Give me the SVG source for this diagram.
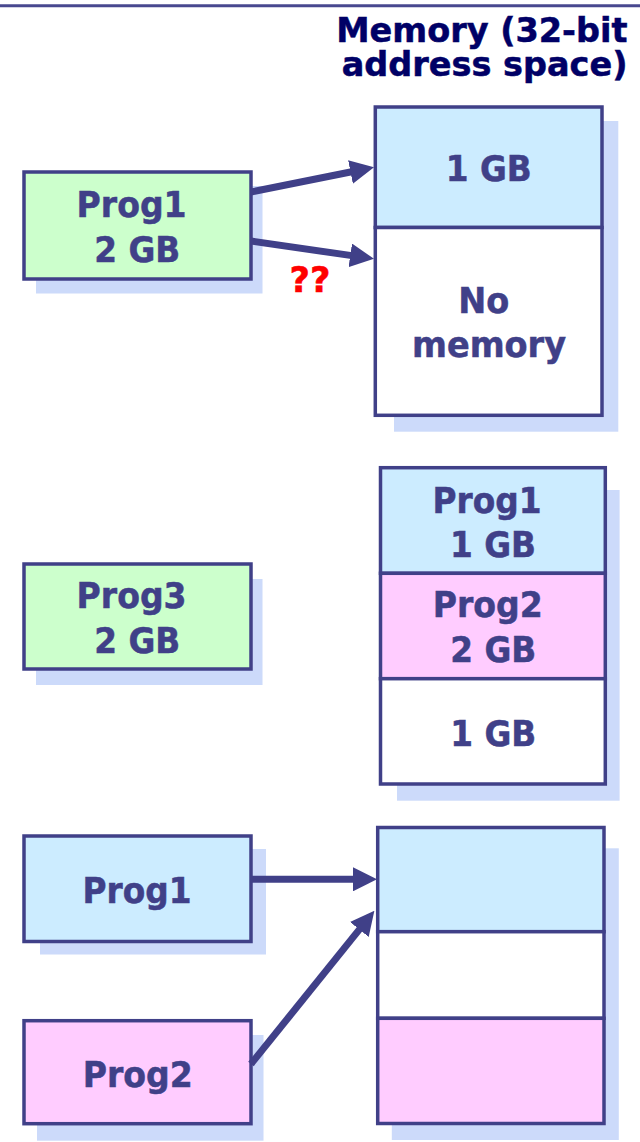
<svg xmlns="http://www.w3.org/2000/svg" width="640" height="1142" viewBox="0 0 640 1142">
<style>
.box{stroke:#404088;stroke-width:3.5}
.sh{fill:#CCDAFA}
.blue{fill:#CCECFF}
.green{fill:#CCFFCC}
.pink{fill:#FFCCFF}
.white{fill:#FFFFFF}
.t{font-family:"DejaVu Sans","Verdana",sans-serif;font-weight:bold;font-size:35px;fill:#404088;stroke:#404088;stroke-width:0.5;text-anchor:middle}
.title{font-family:"DejaVu Sans","Verdana",sans-serif;font-weight:bold;font-size:33.5px;fill:#000066;stroke:#000066;stroke-width:0.5;text-anchor:end}
.q{font-family:"DejaVu Sans","Verdana",sans-serif;font-weight:bold;font-size:36px;fill:#FF0000;stroke:#FF0000;stroke-width:0.5;text-anchor:middle}
.conn{stroke:#404088;stroke-width:7;fill:none;marker-end:url(#ah)}
</style>
<defs>
<marker id="ah" viewBox="0 0 24 24" refX="14" refY="12" markerWidth="24" markerHeight="24" markerUnits="userSpaceOnUse" orient="auto">
<path d="M0,0 L24,12 L0,24 Z" fill="#404088"/>
</marker>
</defs>
<line x1="0" y1="5.7" x2="640" y2="5.7" stroke="#48488F" stroke-width="3"/>
<g id="title">
<text class="title" x="627.5" y="42">Memory (32-bit</text>
<text class="title" x="627.5" y="75.5">address space)</text>
</g>
<!-- Section 1 -->
<g id="s1-prog1">
<rect class="sh" x="36" y="186" width="226.5" height="107.5"/>
<rect class="box green" x="24" y="172" width="227" height="107"/>
<text class="t" x="131.6" y="217.3" textLength="110" lengthAdjust="spacingAndGlyphs">Prog1</text>
<text class="t" x="137.3" y="261.7" textLength="86" lengthAdjust="spacingAndGlyphs">2 GB</text>
</g>
<g id="s1-memory">
<rect class="sh" x="394" y="121" width="224.3" height="310.7"/>
<rect class="box blue" x="375.3" y="107" width="226.7" height="120.5"/>
<rect class="box white" x="375.3" y="227.5" width="226.7" height="187.8"/>
<text class="t" x="488.8" y="181" textLength="86" lengthAdjust="spacingAndGlyphs">1 GB</text>
<text class="t" x="483.7" y="313.3" textLength="51" lengthAdjust="spacingAndGlyphs">No</text>
<text class="t" x="489" y="356.7" textLength="154" lengthAdjust="spacingAndGlyphs">memory</text>
</g>
<text id="qq" class="q" x="310" y="291.7" textLength="41" lengthAdjust="spacingAndGlyphs">??</text>
<!-- Section 2 -->
<g id="s2-prog3">
<rect class="sh" x="36" y="579" width="226.5" height="106"/>
<rect class="box green" x="24" y="564" width="227" height="105"/>
<text class="t" x="131.6" y="607.7" textLength="110" lengthAdjust="spacingAndGlyphs">Prog3</text>
<text class="t" x="137.3" y="652.7" textLength="86" lengthAdjust="spacingAndGlyphs">2 GB</text>
</g>
<g id="s2-memory">
<rect class="sh" x="397" y="490" width="222.6" height="310.7"/>
<rect class="box blue" x="380.5" y="467.7" width="224.8" height="105.6"/>
<rect class="box pink" x="380.5" y="573.3" width="224.8" height="105.4"/>
<rect class="box white" x="380.5" y="678.7" width="224.8" height="105.3"/>
<text class="t" x="487" y="512.7" textLength="109" lengthAdjust="spacingAndGlyphs">Prog1</text>
<text class="t" x="493" y="556.7" textLength="86" lengthAdjust="spacingAndGlyphs">1 GB</text>
<text class="t" x="487.8" y="616.7" textLength="110" lengthAdjust="spacingAndGlyphs">Prog2</text>
<text class="t" x="493.3" y="661.7" textLength="86" lengthAdjust="spacingAndGlyphs">2 GB</text>
<text class="t" x="493.3" y="746" textLength="86" lengthAdjust="spacingAndGlyphs">1 GB</text>
</g>
<!-- Section 3 -->
<g id="s3-prog1">
<rect class="sh" x="40" y="849" width="226" height="105.5"/>
<rect class="box blue" x="24" y="836" width="227" height="105.5"/>
<text class="t" x="137" y="902.7" textLength="109" lengthAdjust="spacingAndGlyphs">Prog1</text>
</g>
<g id="s3-prog2">
<rect class="sh" x="37" y="1035" width="226.5" height="105.7"/>
<rect class="box pink" x="24" y="1020.7" width="227" height="103"/>
<text class="t" x="137.8" y="1086.7" textLength="110" lengthAdjust="spacingAndGlyphs">Prog2</text>
</g>
<g id="s3-memory">
<rect class="sh" x="391.8" y="848.3" width="227" height="291.7"/>
<rect class="box blue" x="377.7" y="827.5" width="226.3" height="104.2"/>
<rect class="box white" x="377.7" y="931.7" width="226.3" height="86.6"/>
<rect class="box pink" x="377.7" y="1018.3" width="226.3" height="105.2"/>
</g>
<g id="connectors">
<line class="conn" x1="251" y1="192" x2="364.2" y2="169.2"/>
<line class="conn" x1="251" y1="241" x2="364.1" y2="257.4"/>
<line class="conn" x1="251" y1="879.3" x2="367" y2="879.3"/>
<line class="conn" x1="251" y1="1064" x2="368.1" y2="918.6"/>
</g>
</svg>
